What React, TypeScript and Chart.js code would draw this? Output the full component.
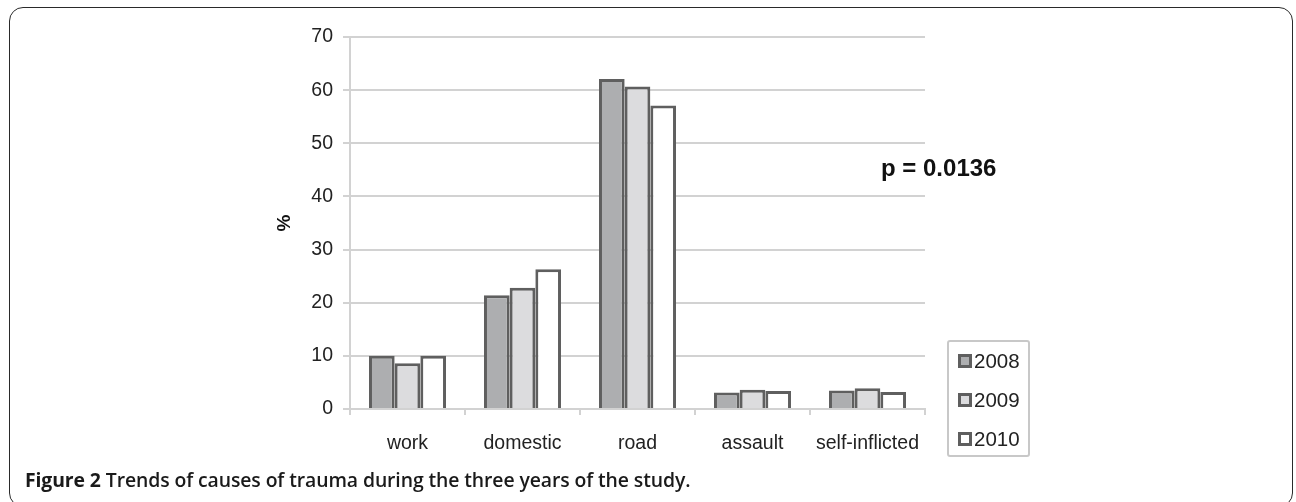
import React, { useEffect, useRef } from "react";
import { Chart, registerables } from "chart.js";

Chart.register(...registerables);

const categories = ["work", "domestic", "road", "assault", "self-inflicted"];
const years = ["2008", "2009", "2010"];
const values2008 = [10.0, 21.4, 62.1, 3.1, 3.5];
const values2009 = [8.6, 22.8, 60.7, 3.6, 3.9];
const values2010 = [10.0, 26.3, 57.1, 3.4, 3.2];
const yTicks = [0, 10, 20, 30, 40, 50, 60, 70];
const yTitle = "%";
const pValueLabel = "p = 0.0136";
const captionBold = "Figure 2";
const captionText = "Trends of causes of trauma during the three years of the study.";

const fills = ["#adaeb0", "#dcdcde", "#ffffff"];
const edge = "#5f5f5f";
const gridGray = "#d2d2d2";
const font = "'Liberation Sans', Arial, sans-serif";

export default function App() {
  const ref = useRef<HTMLCanvasElement | null>(null);

  useEffect(() => {
    if (!ref.current) return;
    const series = [values2008, values2009, values2010];
    const chart = new Chart(ref.current, {
      type: "bar",
      data: {
        labels: categories,
        datasets: years.map((y, i) => ({
          label: y,
          data: series[i],
          backgroundColor: fills[i],
          borderColor: edge,
          borderWidth: 3,
          borderSkipped: "start" as const,
          categoryPercentage: 0.67,
          barPercentage: 1.0,
        })),
      },
      options: {
        responsive: true,
        maintainAspectRatio: false,
        animation: false,
        devicePixelRatio: 1,
        layout: { padding: { left: 270, right: 371, top: 37, bottom: 0 } },
        plugins: { legend: { display: false }, tooltip: { enabled: false } },
        scales: {
          x: {
            offset: true,
            grid: {
              offset: true,
              drawOnChartArea: false,
              drawTicks: true,
              tickLength: 6,
              color: gridGray,
              lineWidth: 2,
            },
            border: { color: gridGray, width: 2 },
            ticks: {
              color: "#222",
              font: { family: font, size: 19.5 },
              padding: 17,
              maxRotation: 0,
              autoSkip: false,
            },
            afterFit: (s: any) => {
              s.height = 93;
            },
          },
          y: {
            min: 0,
            max: 70,
            afterBuildTicks: (s: any) => {
              s.ticks = yTicks.map((v) => ({ value: v }));
            },
            grid: {
              color: gridGray,
              lineWidth: 2,
              drawTicks: true,
              tickLength: 7,
            },
            border: { color: gridGray, width: 2 },
            ticks: {
              color: "#222",
              font: { family: font, size: 19.5 },
              padding: 10,
            },
            title: {
              display: true,
              text: yTitle,
              color: "#111",
              font: { family: font, size: 19, weight: "bold" },
              padding: { top: 3, bottom: 0 },
            },
            afterFit: (s: any) => {
              s.width = 80;
            },
          },
        },
      },
    });
    return () => chart.destroy();
  }, []);

  return (
    <div
      style={{
        position: "absolute",
        left: 0,
        top: 0,
        width: 1296,
        height: 502,
        overflow: "hidden",
        background: "#fff",
      }}
    >
      <div
        style={{
          position: "absolute",
          left: 9,
          top: 7,
          width: 1284,
          height: 500,
          border: "1.6px solid #2a2a2a",
          borderRadius: 14,
          boxSizing: "border-box",
        }}
      />
      <div style={{ position: "absolute", left: 0, top: 0, width: 1296, height: 502 }}>
        <canvas ref={ref} />
      </div>
      <div
        style={{
          position: "absolute",
          left: 881,
          top: 154,
          fontFamily: font,
          fontWeight: "bold",
          fontSize: 24,
          color: "#111",
          lineHeight: "28px",
          whiteSpace: "nowrap",
        }}
      >
        {pValueLabel}
      </div>
      <div
        style={{
          position: "absolute",
          left: 947,
          top: 340,
          width: 83,
          height: 117,
          border: "2px solid #c8c8c8",
          borderRadius: 3,
          boxSizing: "border-box",
        }}
      >
        {years.map((y, i) => (
          <div
            key={y}
            style={{
              position: "absolute",
              left: 9,
              top: 7 + i * 39,
              height: 24,
              display: "flex",
              alignItems: "center",
              fontFamily: font,
              fontSize: 20.5,
              color: "#222",
            }}
          >
            <span
              style={{
                display: "inline-block",
                width: 14,
                height: 14,
                boxSizing: "border-box",
                border: `3px solid ${edge}`,
                background: fills[i],
                marginRight: 2,
              }}
            />
            {y}
          </div>
        ))}
      </div>
      <div
        style={{
          position: "absolute",
          left: 25,
          top: 468,
          fontFamily: "'Open Sans', 'Noto Sans', sans-serif",
          fontSize: 19.4,
          fontWeight: 600,
          color: "#1a1a1a",
          whiteSpace: "nowrap",
          lineHeight: "24px",
          letterSpacing: "-0.1px",
        }}
      >
        <span style={{ fontWeight: 700 }}>{captionBold}</span> {captionText}
      </div>
    </div>
  );
}
